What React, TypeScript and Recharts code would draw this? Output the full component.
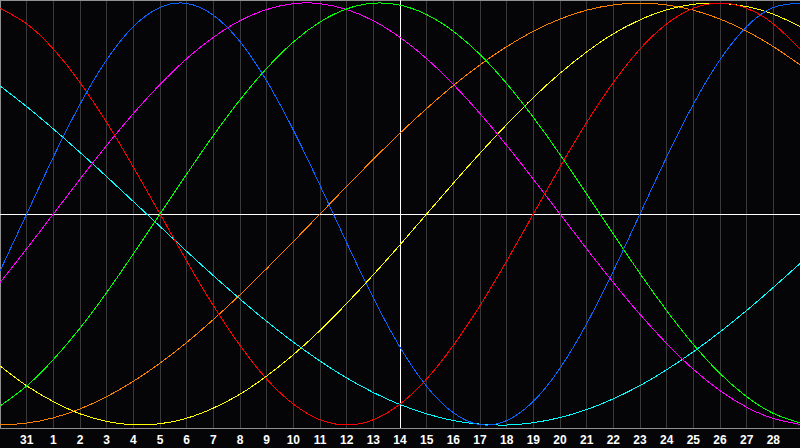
import { LineChart, Line, XAxis, YAxis, CartesianGrid, ReferenceLine } from 'recharts';

// day labels under the grid lines (index 1..29 on the x axis)
const dayLabels = ['31', '1', '2', '3', '4', '5', '6', '7', '8', '9', '10', '11', '12', '13', '14',
  '15', '16', '17', '18', '19', '20', '21', '22', '23', '24', '25', '26', '27', '28'];

// one value per day, from x index 0 to 30
const physical = [-0.27, 0, 0.27, 0.52, 0.731, 0.888, 0.979, 0.998, 0.942, 0.817, 0.631, 0.398, 0.136, -0.136,
  -0.398, -0.631, -0.817, -0.942, -0.998, -0.979, -0.888, -0.731, -0.52, -0.27, 0, 0.27, 0.52, 0.731, 0.888, 0.979, 0.998];
const emotional = [0.975, 0.901, 0.782, 0.623, 0.434, 0.223, 0, -0.223, -0.434, -0.623, -0.782, -0.901, -0.975, -1,
  -0.975, -0.901, -0.782, -0.623, -0.434, -0.223, 0, 0.223, 0.434, 0.623, 0.782, 0.901, 0.975, 1, 0.975, 0.901, 0.782];
const intellectual = [-0.91, -0.815, -0.69, -0.541, -0.372, -0.189, 0, 0.189, 0.372, 0.541, 0.69, 0.815, 0.91, 0.972,
  0.999, 0.99, 0.945, 0.866, 0.756, 0.618, 0.458, 0.282, 0.095, -0.095, -0.282, -0.458, -0.618, -0.756, -0.866, -0.945, -0.99];
const intuitive = [-0.325, -0.165, 0, 0.165, 0.325, 0.476, 0.614, 0.736, 0.837, 0.916, 0.969, 0.997, 0.997, 0.969,
  0.916, 0.837, 0.736, 0.614, 0.476, 0.325, 0.165, 0, -0.165, -0.325, -0.476, -0.614, -0.736, -0.837, -0.916, -0.969, -0.997];
const aesthetic = [-0.72, -0.814, -0.889, -0.947, -0.983, -0.999, -0.994, -0.968, -0.92, -0.854, -0.768, -0.667, -0.552, -0.424,
  -0.288, -0.146, 0, 0.146, 0.288, 0.424, 0.552, 0.667, 0.768, 0.854, 0.92, 0.968, 0.994, 0.999, 0.983, 0.947, 0.889];
const awareness = [-1, -0.991, -0.966, -0.924, -0.866, -0.793, -0.707, -0.609, -0.5, -0.383, -0.259, -0.131, 0, 0.131,
  0.259, 0.383, 0.5, 0.609, 0.707, 0.793, 0.866, 0.924, 0.966, 0.991, 1, 0.991, 0.966, 0.924, 0.866, 0.793, 0.707];
const spiritual = [0.607, 0.509, 0.403, 0.292, 0.177, 0.059, -0.059, -0.177, -0.292, -0.403, -0.509, -0.607, -0.697, -0.777,
  -0.846, -0.903, -0.947, -0.979, -0.996, -1, -0.989, -0.965, -0.927, -0.876, -0.813, -0.738, -0.653, -0.559, -0.457, -0.348, -0.235];

const data = physical.map((_, i) => ({
  k: i,
  physical: physical[i],
  emotional: emotional[i],
  intellectual: intellectual[i],
  intuitive: intuitive[i],
  aesthetic: aesthetic[i],
  awareness: awareness[i],
  spiritual: spiritual[i],
}));

const ticks = dayLabels.map((_, i) => i + 1);
const today = 15;

const series = [
  { key: 'awareness', color: '#ff8000' },
  { key: 'aesthetic', color: '#ffff00' },
  { key: 'spiritual', color: '#00ffff' },
  { key: 'intuitive', color: '#ff00ff' },
  { key: 'intellectual', color: '#00ff00' },
  { key: 'emotional', color: '#ff0000' },
  { key: 'physical', color: '#0a64ff' },
];

export default function App() {
  return (
    <div style={{ position: 'absolute', left: 0, top: 0, width: 800, height: 448, background: '#050508' }}>
      <LineChart width={800} height={448} data={data} margin={{ top: 0, right: 0, left: 0, bottom: 0 }}>
        <CartesianGrid horizontal={false} stroke="#3a3a3a" shapeRendering="crispEdges" />
        <XAxis
          dataKey="k"
          type="number"
          domain={[0, 30]}
          ticks={ticks}
          interval={0}
          height={20}
          tickLine={false}
          tickSize={6}
          tickMargin={1}
          axisLine={{ stroke: '#909090', shapeRendering: 'crispEdges' }}
          tickFormatter={(v: number) => dayLabels[v - 1]}
          tick={{ fill: '#ffffff', fontSize: 12, fontWeight: 'bold', fontFamily: 'Liberation Sans, Arial, sans-serif' }}
        />
        <YAxis hide domain={[-1.0142, 1.0142]} />
        <ReferenceLine x={0} stroke="#909090" strokeWidth={2} shapeRendering="crispEdges" />
        <ReferenceLine y={1.0142} stroke="#909090" strokeWidth={2} shapeRendering="crispEdges" />
        <ReferenceLine y={0} stroke="#ffffff" strokeWidth={1} shapeRendering="crispEdges" />
        <ReferenceLine x={today} stroke="#ffffff" strokeWidth={1} shapeRendering="crispEdges" />
        {series.map((s) => (
          <Line
            key={s.key}
            dataKey={s.key}
            type="natural"
            stroke={s.color}
            strokeWidth={1}
            dot={false}
            activeDot={false}
            shapeRendering="crispEdges"
            isAnimationActive={false}
          />
        ))}
      </LineChart>
    </div>
  );
}
